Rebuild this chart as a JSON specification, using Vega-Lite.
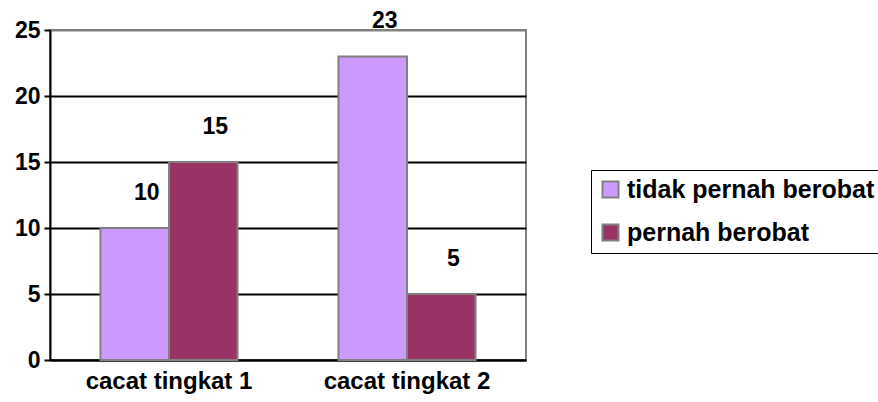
{
  "$schema": "https://vega.github.io/schema/vega-lite/v6.json",
  "width": 476,
  "height": 330,
  "autosize": {"type": "none"},
  "padding": {"left": 50, "top": 30, "right": 352, "bottom": 42},
  "background": "white",
  "config": {
    "font": "Liberation Sans",
    "view": {"stroke": "#808080", "strokeWidth": 2}
  },
  "data": {
    "values": [
      {"kategori": "cacat tingkat 1", "status": "tidak pernah berobat", "jumlah": 10},
      {"kategori": "cacat tingkat 1", "status": "pernah berobat", "jumlah": 15},
      {"kategori": "cacat tingkat 2", "status": "tidak pernah berobat", "jumlah": 23},
      {"kategori": "cacat tingkat 2", "status": "pernah berobat", "jumlah": 5}
    ]
  },
  "encoding": {
    "x": {
      "field": "kategori",
      "type": "nominal",
      "sort": null,
      "scale": {"paddingInner": 0.424, "paddingOuter": 0.212},
      "axis": {
        "title": null,
        "labelAngle": 0,
        "labelFont": "Liberation Sans",
        "labelFontSize": 24,
        "labelFontWeight": "bold",
        "labelColor": "black",
        "labelPadding": 9,
        "ticks": false,
        "domainColor": "black",
        "domainWidth": 2
      }
    },
    "xOffset": {
      "field": "status",
      "type": "nominal",
      "sort": ["tidak pernah berobat", "pernah berobat"],
      "scale": {"paddingInner": 0, "paddingOuter": 0}
    },
    "y": {
      "field": "jumlah",
      "type": "quantitative",
      "scale": {"domain": [0, 25], "nice": false},
      "axis": {
        "title": null,
        "values": [0, 5, 10, 15, 20, 25],
        "labelFont": "Liberation Sans",
        "labelFontSize": 23,
        "labelFontWeight": "bold",
        "labelColor": "black",
        "labelPadding": 4,
        "tickColor": "black",
        "tickWidth": 2,
        "tickSize": 6,
        "domainColor": "black",
        "domainWidth": 2,
        "grid": true,
        "gridColor": {"condition": {"test": "datum.value == 25", "value": "#808080"}, "value": "black"},
        "gridWidth": 2
      }
    }
  },
  "layer": [
    {
      "mark": {"type": "bar", "stroke": "#808080", "strokeWidth": 2},
      "encoding": {
        "color": {
          "field": "status",
          "type": "nominal",
          "sort": ["tidak pernah berobat", "pernah berobat"],
          "scale": {"domain": ["tidak pernah berobat", "pernah berobat"], "range": ["#CC99FF", "#993366"]},
          "legend": {
            "title": null,
            "orient": "none",
            "legendX": 541,
            "legendY": 140,
            "strokeColor": "black",
            "fillColor": "white",
            "padding": 7,
            "symbolType": "square",
            "symbolSize": 256,
            "symbolStrokeColor": "#808080",
            "symbolStrokeWidth": 2,
            "labelFont": "Liberation Sans",
            "labelFontSize": 25,
            "labelFontWeight": "bold",
            "labelColor": "black",
            "labelOffset": 4,
            "rowPadding": 17,
            "labelLimit": 400
          }
        }
      }
    },
    {
      "mark": {"type": "text", "font": "Liberation Sans", "fontSize": 23, "fontWeight": "bold", "color": "black", "baseline": "alphabetic", "dy": -28, "dx": 12},
      "encoding": {
        "text": {"field": "jumlah", "type": "quantitative"}
      }
    }
  ]
}
